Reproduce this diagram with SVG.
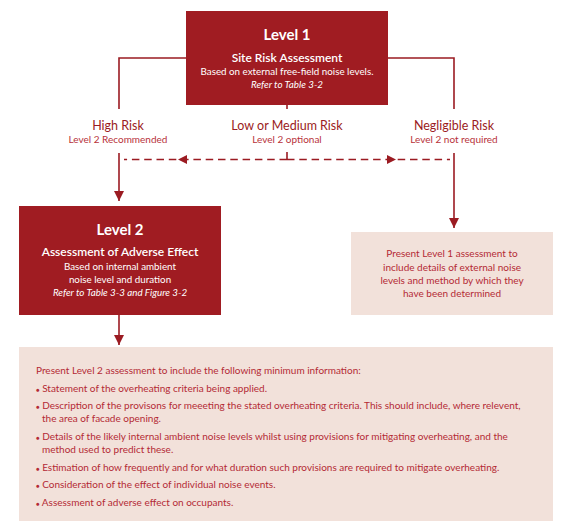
<svg xmlns="http://www.w3.org/2000/svg" width="577" height="531" viewBox="0 0 577 531">
<defs>
<marker id="ah" viewBox="0 0 10 10" refX="10" refY="5" markerWidth="10" markerHeight="10" markerUnits="userSpaceOnUse" orient="auto">
<path d="M0,0 L10,5 L0,10 Z" fill="#9b1b22"/>
</marker>
<style>
text{font-family:Lato,"Open Sans","Liberation Sans",sans-serif}
.dark{fill:#a01c22}
.pink{fill:#f2e1da}
.w{fill:#ffffff;text-anchor:middle}
.h1{font-size:15px;font-weight:bold}
.h2{font-size:12px;font-weight:600}
.s{font-size:9.8px}
.i{font-style:italic}
.lab{fill:#9b1b22;text-anchor:middle;font-size:12.5px}
.sub{fill:#b8323a;text-anchor:middle;font-size:10px}
.pt{fill:#b42a35;font-size:10px}
.b{font-size:6px}
.ln{stroke:#9b1b22;stroke-width:1.6;fill:none}
.dash{stroke:#9b1b22;stroke-width:1.6;fill:none;stroke-dasharray:7.5 4.8}
</style>
</defs>
<g id="connectors">
<polyline class="ln" points="186,58 119,58 119,109"/>
<polyline class="ln" points="388,58 454,58 454,109"/>
<line class="ln" x1="287" y1="105" x2="287" y2="109"/>
<line class="ln" x1="119" y1="153" x2="119" y2="201" marker-end="url(#ah)"/>
<line class="ln" x1="454" y1="153" x2="454" y2="228" marker-end="url(#ah)"/>
<line class="ln" x1="287" y1="152" x2="287" y2="160"/>
<line class="dash" x1="287" y1="159.5" x2="124" y2="159.5"/>
<line class="dash" x1="287" y1="159.5" x2="450" y2="159.5"/>
<path d="M178,159.5 L187,155 L187,164 Z" fill="#9b1b22"/>
<path d="M396,159.5 L387,155 L387,164 Z" fill="#9b1b22"/>
<line class="ln" x1="119" y1="315" x2="119" y2="345" marker-end="url(#ah)"/>
</g>
<g id="level1">
<rect class="dark" x="186" y="11" width="202" height="94"/>
<text class="w h1" x="287" y="40">Level 1</text>
<text class="w h2" x="287" y="62">Site Risk Assessment</text>
<text class="w s" x="287" y="75">Based on external free-field noise levels.</text>
<text class="w s i" x="287" y="88">Refer to Table 3-2</text>
</g>
<g id="high-risk">
<text class="lab" x="118" y="130">High Risk</text>
<text class="sub" x="118" y="143">Level 2 Recommended</text>
</g>
<g id="low-medium-risk">
<text class="lab" x="287" y="130">Low or Medium Risk</text>
<text class="sub" x="287" y="143">Level 2 optional</text>
</g>
<g id="negligible-risk">
<text class="lab" x="454" y="130">Negligible Risk</text>
<text class="sub" x="454" y="143">Level 2 not required</text>
</g>
<g id="level2">
<rect class="dark" x="19" y="206" width="202" height="109"/>
<text class="w h1" x="120" y="235">Level 2</text>
<text class="w h2" x="120" y="256">Assessment of Adverse Effect</text>
<text class="w s" x="120" y="270">Based on internal ambient</text>
<text class="w s" x="120" y="283">noise level and duration</text>
<text class="w s i" x="120" y="296">Refer to Table 3-3 and Figure 3-2</text>
</g>
<g id="level1-present">
<rect class="pink" x="351" y="232" width="202" height="83"/>
<text class="pt" text-anchor="middle" x="452" y="257">Present Level 1 assessment to</text>
<text class="pt" text-anchor="middle" x="452" y="271">include details of external noise</text>
<text class="pt" text-anchor="middle" x="452" y="284">levels and method by which they</text>
<text class="pt" text-anchor="middle" x="452" y="297">have been determined</text>
</g>
<g id="level2-present">
<rect class="pink" x="19" y="347" width="534" height="174"/>
<text class="pt" x="36" y="374">Present Level 2 assessment to include the following minimum information:</text>
<text class="pt" x="36" y="392"><tspan class="b">●</tspan> Statement of the overheating criteria being applied.</text>
<text class="pt" x="36" y="409"><tspan class="b">●</tspan> Description of the provisons for meeeting the stated overheating criteria. This should include, where relevent,</text>
<text class="pt" x="42" y="422">the area of facade opening.</text>
<text class="pt" x="36" y="440"><tspan class="b">●</tspan> Details of the likely internal ambient noise levels whilst using provisions for mitigating overheating, and the</text>
<text class="pt" x="42" y="453">method used to predict these.</text>
<text class="pt" x="36" y="471"><tspan class="b">●</tspan> Estimation of how frequently and for what duration such provisions are required to mitigate overheating.</text>
<text class="pt" x="36" y="488"><tspan class="b">●</tspan> Consideration of the effect of individual noise events.</text>
<text class="pt" x="36" y="506"><tspan class="b">●</tspan> Assessment of adverse effect on occupants.</text>
</g>
</svg>
